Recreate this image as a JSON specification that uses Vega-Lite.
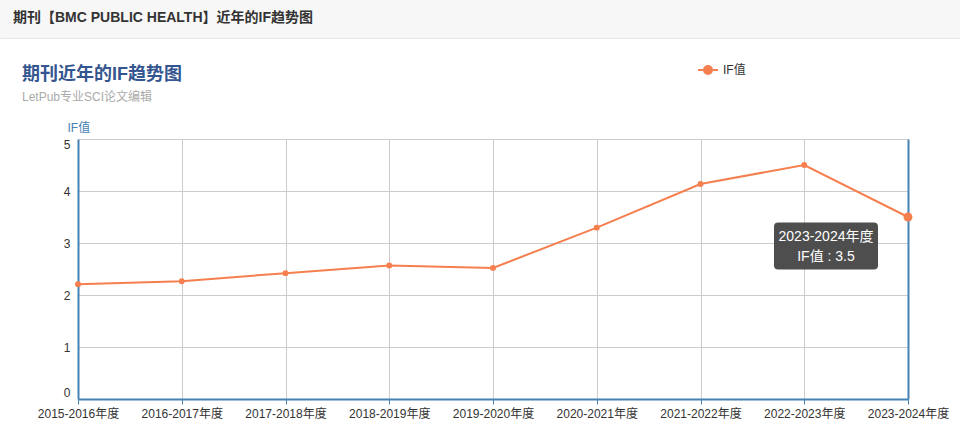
{
  "$schema": "https://vega.github.io/schema/vega-lite/v6.json",
  "padding": 0,
  "background": "white",
  "bounds": "flush",
  "spacing": 101,
  "datasets": {
    "ifdata": [
      {"season": "2015-2016年度", "IF": 2.209},
      {"season": "2016-2017年度", "IF": 2.265},
      {"season": "2017-2018年度", "IF": 2.42},
      {"season": "2018-2019年度", "IF": 2.567},
      {"season": "2019-2020年度", "IF": 2.521},
      {"season": "2020-2021年度", "IF": 3.295},
      {"season": "2021-2022年度", "IF": 4.135},
      {"season": "2022-2023年度", "IF": 4.5},
      {"season": "2023-2024年度", "IF": 3.5}
    ]
  },
  "config": {
    "font": "Liberation Sans, Noto Sans CJK SC",
    "view": {"stroke": null},
    "axis": {"labelFont": "Liberation Sans, Noto Sans CJK SC", "titleFont": "Liberation Sans, Noto Sans CJK SC"}
  },
  "vconcat": [
    {
      "width": 960,
      "height": 38,
      "view": {"fill": "#f7f7f7", "stroke": null},
      "title": {
        "text": "期刊【BMC PUBLIC HEALTH】近年的IF趋势图",
        "anchor": "start",
        "frame": "group",
        "orient": "top",
        "baseline": "alphabetic",
        "offset": -36,
        "dx": 13,
        "fontSize": 14,
        "fontWeight": "bold",
        "color": "#333333",
        "font": "Liberation Sans, Noto Sans CJK SC"
      },
      "data": {"values": []},
      "mark": {"type": "rule"},
      "encoding": {
        "x": {"field": "a", "type": "quantitative", "scale": {"domain": [0, 1]},
              "axis": {"labels": false, "ticks": false, "grid": false, "domainColor": "#e6e6e6", "domainWidth": 1, "title": null}}
      }
    },
    {
      "bounds": "flush",
      "spacing": 0,
      "hconcat": [
        {
          "width": 78,
          "height": 260,
          "data": {"values": []},
          "mark": {"type": "rule"},
          "encoding": {}
        },
        {
          "width": 830,
          "height": 260,
          "title": {
            "text": "期刊近年的IF趋势图",
            "subtitle": "LetPub专业SCI论文编辑",
            "anchor": "start",
            "frame": "group",
            "dx": -56,
            "offset": 18,
            "fontSize": 18,
            "fontWeight": "bold",
            "color": "#34558f",
            "font": "Liberation Sans, Noto Sans CJK SC",
            "subtitleFont": "Liberation Sans, Noto Sans CJK SC",
            "subtitleFontSize": 12,
            "subtitleColor": "#aaaaaa",
            "subtitlePadding": 8
          },
          "data": {"name": "ifdata"},
          "resolve": {"axis": {"y": "independent"}},
          "layer": [
            {
              "mark": {"type": "line", "strokeWidth": 2, "point": {"filled": true, "size": 35}},
              "encoding": {
                "x": {"field": "season", "type": "ordinal", "sort": null,
                      "scale": {"type": "point", "padding": 0},
                      "axis": {"title": null, "labelAngle": 0, "labelFontSize": 12, "labelColor": "#333333",
                               "labelPadding": 4, "labelFlush": false, "labelOverlap": false,
                               "grid": true, "gridColor": "#cccccc", "gridWidth": 1,
                               "ticks": true, "tickSize": 5, "tickColor": "#4682b4",
                               "domainColor": "#4682b4", "domainWidth": 2}},
                "y": {"field": "IF", "type": "quantitative",
                      "scale": {"domain": [0, 5], "nice": false, "zero": true},
                      "axis": {"values": [0, 1, 2, 3, 4, 5], "title": "IF值", "titleAngle": 0,
                               "titleAlign": "left", "titleBaseline": "alphabetic", "titleX": -11, "titleY": -8,
                               "titleColor": "#4682b4", "titleFontSize": 12, "titleFontWeight": "normal",
                               "labelFontSize": 12, "labelColor": "#333333", "labelPadding": 8,
                               "labelFlush": true, "labelFlushOffset": 0,
                               "ticks": false, "grid": true, "gridColor": "#cccccc", "gridWidth": 1,
                               "domainColor": "#4682b4", "domainWidth": 2}},
                "color": {"datum": "IF值", "type": "nominal",
                          "scale": {"domain": ["IF值"], "range": ["#f57f4f"]},
                          "legend": {"title": null, "orient": "none", "legendX": 697, "legendY": 59,
                                     "symbolType": "M-1,0L-0.5,0M0.5,0L1,0M0.4,0A0.4,0.4,0,1,1,-0.4,0A0.4,0.4,0,1,1,0.4,0Z",
                                     "symbolSize": 400, "symbolStrokeWidth": 2, "symbolFillColor": "#f57f4f",
                                     "symbolStrokeColor": "#f57f4f",
                                     "labelFontSize": 12, "labelColor": "#333333", "labelOffset": 4}}
              }
            },
            {
              "transform": [{"filter": "datum.season == '2023-2024年度'"}],
              "mark": {"type": "point", "filled": true, "size": 80, "color": "#f57f4f", "opacity": 1},
              "encoding": {
                "x": {"field": "season", "type": "ordinal", "sort": null, "title": null},
                "y": {"field": "IF", "type": "quantitative",
                      "axis": {"orient": "right", "labels": false, "ticks": false, "grid": false, "title": null,
                               "domainColor": "#4682b4", "domainWidth": 2}}
              }
            },
            {
              "transform": [{"filter": "datum.season == '2023-2024年度'"}],
              "mark": {"type": "point", "filled": true, "size": 10816, "color": "#444444", "opacity": 0.95,
                       "shape": "M-0.92,-0.452L0.92,-0.452Q1,-0.452,1,-0.375L1,0.375Q1,0.452,0.92,0.452L-0.92,0.452Q-1,0.452,-1,0.375L-1,-0.375Q-1,-0.452,-0.92,-0.452Z",
                       "xOffset": -82, "yOffset": 29},
              "encoding": {
                "x": {"field": "season", "type": "ordinal", "sort": null, "title": null},
                "y": {"field": "IF", "type": "quantitative", "axis": null}
              }
            },
            {
              "transform": [{"filter": "datum.season == '2023-2024年度'"}],
              "mark": {"type": "text", "color": "white", "fontSize": 14, "baseline": "middle", "align": "center",
                       "xOffset": -82, "yOffset": 20},
              "encoding": {
                "x": {"field": "season", "type": "ordinal", "sort": null, "title": null},
                "y": {"field": "IF", "type": "quantitative", "axis": null},
                "text": {"field": "season"}
              }
            },
            {
              "transform": [
                {"filter": "datum.season == '2023-2024年度'"},
                {"calculate": "'IF值 : ' + datum.IF", "as": "label"}
              ],
              "mark": {"type": "text", "color": "white", "fontSize": 14, "baseline": "middle", "align": "center",
                       "xOffset": -82, "yOffset": 40},
              "encoding": {
                "x": {"field": "season", "type": "ordinal", "sort": null, "title": null},
                "y": {"field": "IF", "type": "quantitative", "axis": null},
                "text": {"field": "label"}
              }
            }
          ]
        }
      ]
    }
  ]
}
